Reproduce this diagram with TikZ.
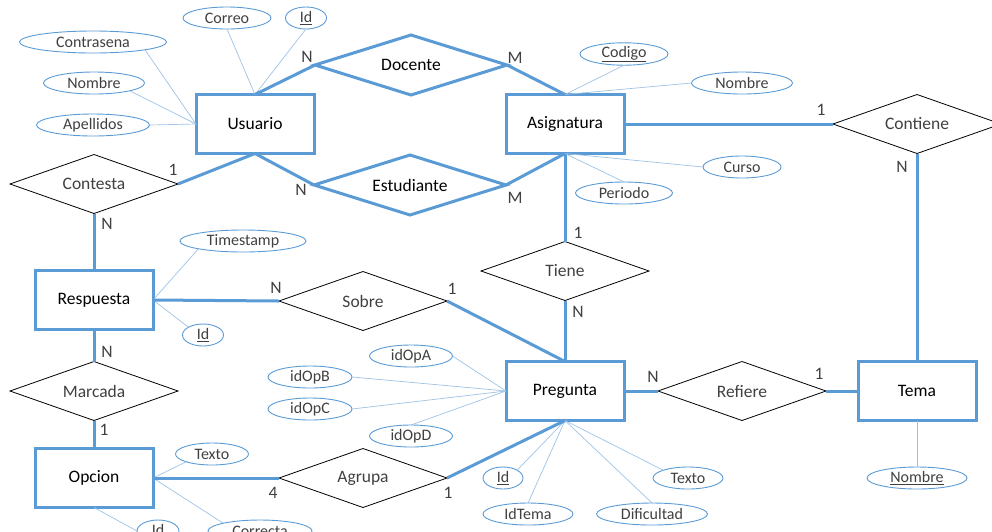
\documentclass[tikz,border=0pt]{standalone}
\usepackage{fontspec}
\setmainfont{Carlito}
\usetikzlibrary{shapes.geometric}
\definecolor{erblue}{HTML}{5B9BD5}
\definecolor{erthin}{HTML}{9DC3E6}
\definecolor{ertext}{HTML}{404040}

\begin{document}
\begin{tikzpicture}[x=1pt,y=-1pt,
  entity/.style={draw=erblue, line width=3pt, minimum width=118pt, minimum height=59pt,
    inner sep=0pt, outer sep=0pt, font=\fontsize{17.5}{20}\selectfont, text=black},
  relbox/.style={diamond, draw=black, line width=0.8pt, minimum width=168pt, minimum height=59pt,
    inner sep=0pt, outer sep=0pt, aspect=3, font=\fontsize{17.5}{20}\selectfont, text=ertext},
  strongrel/.style={relbox, draw=erblue, line width=3pt, minimum width=192pt, minimum height=60pt, text=black},
  attr/.style={ellipse, draw=erblue, line width=0.9pt, inner sep=0pt, outer sep=0pt,
    minimum height=22pt, font=\fontsize{16}{18}\selectfont, text=ertext},
  link/.style={draw=erblue, line width=3pt},
  attrlink/.style={draw=erthin, line width=0.7pt},
  card/.style={font=\fontsize{17.5}{20}\selectfont, text=ertext, inner sep=0pt},
]
\useasboundingbox (0,0) rectangle (992,531);
\clip (0,0) rectangle (992,531);

% Entities
\node[entity] (usuario)    at (255,124) {Usuario};
\node[entity] (asignatura) at (565,124) {Asignatura};
\node[entity] (respuesta)  at (94,300)  {Respuesta};
\node[entity] (pregunta)   at (565,391) {Pregunta};
\node[entity] (opcion)     at (94,478)  {Opcion};
\node[entity] (tema)       at (917,391) {Tema};

% Relationships
\node[strongrel] (docente)    at (411,65)  {Docente};
\node[strongrel] (estudiante) at (410,185) {Estudiante};
\node[relbox] (contesta) at (94,184)  {Contesta};
\node[relbox] (contiene) at (917,124) {Contiene};
\node[relbox] (tiene)    at (565,271) {Tiene};
\node[relbox] (sobre)    at (363,301) {Sobre};
\node[relbox] (marcada)  at (94,391)  {Marcada};
\node[relbox] (refiere)  at (742,391) {Refiere};
\node[relbox] (agrupa)   at (363,478) {Agrupa};

% Attributes of Usuario
\node[attr, minimum width=88pt]  (ucorreo) at (227,18)  {Correo};
\node[attr, minimum width=41pt]  (uid)     at (306,18)  {\underline{Id}};
\node[attr, minimum width=147pt] (upass)   at (93,42)   {Contrasena};
\node[attr, minimum width=101pt] (unombre) at (94,83)   {Nombre};
\node[attr, minimum width=113pt] (uapell)  at (93,125)  {Apellidos};

% Attributes of Asignatura
\node[attr, minimum width=88pt]  (acodigo) at (624,54)  {\underline{Codigo}};
\node[attr, minimum width=101pt] (anombre) at (742,83)  {Nombre};
\node[attr, minimum width=78pt]  (acurso)  at (742,167) {Curso};
\node[attr, minimum width=97pt]  (aperiod) at (624,193) {Periodo};

% Attributes of Respuesta
\node[attr, minimum width=126pt] (rtime) at (243,241) {Timestamp};
\node[attr, minimum width=41pt]  (rid)   at (203,335) {\underline{Id}};

% Attributes of Opcion
\node[attr, minimum width=73pt]  (otexto) at (212,454) {Texto};
\node[attr, minimum width=104pt] (ocorr)  at (260,531) {Correcta};
\node[attr, minimum width=42pt]  (oid)    at (158,531) {\underline{Id}};

% Attributes of Pregunta
\node[attr, minimum width=83pt]  (pa)     at (411,356) {idOpA};
\node[attr, minimum width=84pt]  (pb)     at (310,377) {idOpB};
\node[attr, minimum width=84pt]  (pc)     at (310,409) {idOpC};
\node[attr, minimum width=83pt]  (pd)     at (411,436) {idOpD};
\node[attr, minimum width=40pt]  (pid)    at (503,478) {\underline{Id}};
\node[attr, minimum width=90pt]  (ptema)  at (528,514) {IdTema};
\node[attr, minimum width=111pt] (pdif)   at (652,514) {Dificultad};
\node[attr, minimum width=70pt]  (ptexto) at (688,478) {Texto};

% Attribute of Tema
\node[attr, minimum width=100pt] (tnombre) at (917,478) {\underline{Nombre}};

% Attribute connectors
\draw[attrlink] (ucorreo.south) -- (usuario.north);
\draw[attrlink] (uid.south) -- (usuario.north);
\draw[attrlink] (upass.south east) -- (usuario.west);
\draw[attrlink] (unombre.south east) -- (usuario.west);
\draw[attrlink] (uapell.east) -- (usuario.west);

\draw[attrlink] (acodigo.south) -- (asignatura.north);
\draw[attrlink] (anombre.west) -- (asignatura.north);
\draw[attrlink] (acurso.west) -- (asignatura.south);
\draw[attrlink] (aperiod.north) -- (asignatura.south);

\draw[attrlink] (rtime.south west) -- (respuesta.east);
\draw[attrlink] (rid.north west) -- (respuesta.east);

\draw[attrlink] (otexto.south west) -- (opcion.east);
\draw[attrlink] (ocorr.north west) -- (opcion.east);
\draw[attrlink] (oid.west) -- (opcion.south);

\draw[attrlink] (pa.east) -- (pregunta.west);
\draw[attrlink] (pb.east) -- (pregunta.west);
\draw[attrlink] (pc.east) -- (pregunta.west);
\draw[attrlink] (pd.north) -- (pregunta.west);
\draw[attrlink] (pid.north east) -- (pregunta.south);
\draw[attrlink] (ptema.north) -- (pregunta.south);
\draw[attrlink] (pdif.north) -- (pregunta.south);
\draw[attrlink] (ptexto.north west) -- (pregunta.south);

\draw[attrlink] (tnombre.north) -- (tema.south);

% Relationship connectors
\draw[link] (usuario.north) -- (docente.west);
\draw[link] (docente.east) -- (asignatura.north);
\draw[link] (usuario.south) -- (estudiante.west);
\draw[link] (estudiante.east) -- (asignatura.south);
\draw[link] (usuario.south) -- (contesta.east);
\draw[link] (contesta.south) -- (respuesta.north);
\draw[link] (respuesta.east) -- (sobre.west);
\draw[link] (sobre.east) -- (pregunta.north);
\draw[link] (asignatura.south) -- (tiene.north);
\draw[link] (tiene.south) -- (pregunta.north);
\draw[link] (asignatura.east) -- (contiene.west);
\draw[link] (contiene.south) -- (tema.north);
\draw[link] (pregunta.east) -- (refiere.west);
\draw[link] (refiere.east) -- (tema.west);
\draw[link] (respuesta.south) -- (marcada.north);
\draw[link] (marcada.south) -- (opcion.north);
\draw[link] (opcion.east) -- (agrupa.west);
\draw[link] (agrupa.east) -- (pregunta.south);

% Cardinalities
\node[card] (c1)  at (307,57)  {N};
\node[card] (c2)  at (515,58)  {M};
\node[card] (c3)  at (301,190) {N};
\node[card] (c4)  at (515,198) {M};
\node[card] (c5)  at (173,170) {1};
\node[card] (c6)  at (107,224) {N};
\node[card] (c7)  at (276,288) {N};
\node[card] (c8)  at (452,289) {1};
\node[card] (c9)  at (578,233) {1};
\node[card] (c10) at (578,312) {N};
\node[card] (c11) at (821,110) {1};
\node[card] (c12) at (902,167) {N};
\node[card] (c13) at (653,377) {N};
\node[card] (c14) at (819,374) {1};
\node[card] (c15) at (107,352) {N};
\node[card] (c16) at (104,430) {1};
\node[card] (c17) at (273,493) {4};
\node[card] (c18) at (448,493) {1};
\end{tikzpicture}
\end{document}
